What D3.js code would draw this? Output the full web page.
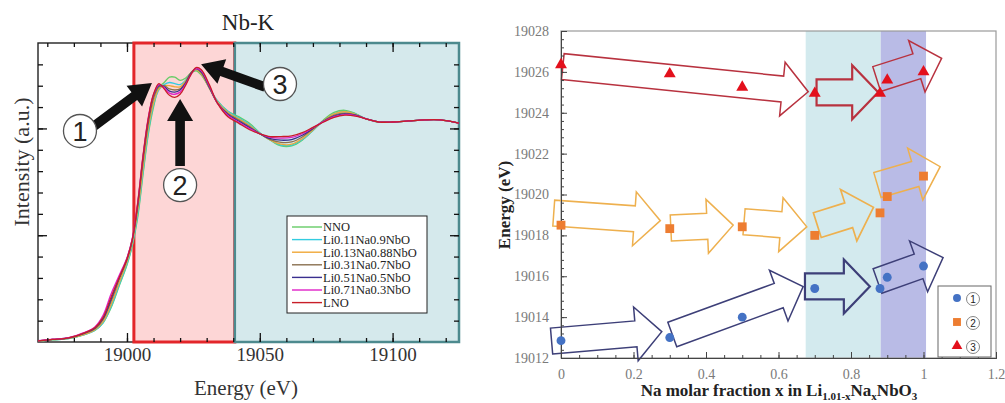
<!DOCTYPE html>
<html>
<head>
<meta charset="utf-8">
<script src="https://cdn.jsdelivr.net/npm/d3@7"></script>
<style>
  body { margin: 0; background: #fff; }
  svg { display: block; font-family: "Liberation Serif", "Times New Roman", serif; }
</style>
</head>
<body>
<svg id="svg1" width="1005" height="403"></svg>
<script>
'use strict'

// ---------- data: left panel (Nb-K edge spectra) ----------
const energy = [18966, 18972, 18978, 18984, 18988, 18991, 18994, 18997, 19000, 19002,
  19004, 19006, 19008, 19010, 19012, 19014, 19016, 19018, 19020, 19022,
  19024, 19026, 19028, 19031, 19034, 19038, 19042, 19046, 19050, 19054,
  19058, 19062, 19066, 19070, 19074, 19078, 19082, 19086, 19090, 19095,
  19100, 19106, 19112, 19118, 19125];

const nno = [0.003, 0.010, 0.016, 0.035, 0.055, 0.090, 0.160, 0.260, 0.360, 0.450,
  0.580, 0.780, 0.970, 1.100, 1.190, 1.215, 1.240, 1.240, 1.225, 1.235,
  1.258, 1.270, 1.250, 1.190, 1.130, 1.080, 1.055, 1.025, 0.980, 0.945,
  0.918, 0.918, 0.945, 0.990, 1.040, 1.075, 1.085, 1.070, 1.045, 1.030,
  1.030, 1.035, 1.040, 1.040, 1.025];
const li011 = [0.003, 0.010, 0.016, 0.034, 0.055, 0.090, 0.165, 0.265, 0.365, 0.455,
  0.590, 0.790, 0.980, 1.110, 1.180, 1.205, 1.215, 1.210, 1.205, 1.225,
  1.260, 1.275, 1.255, 1.190, 1.130, 1.080, 1.050, 1.020, 0.978, 0.945,
  0.922, 0.922, 0.948, 0.990, 1.035, 1.070, 1.080, 1.068, 1.045, 1.030,
  1.030, 1.035, 1.040, 1.040, 1.025];
const li013 = [0.004, 0.011, 0.017, 0.036, 0.058, 0.095, 0.175, 0.275, 0.375, 0.465,
  0.610, 0.810, 1.000, 1.120, 1.185, 1.200, 1.200, 1.195, 1.195, 1.220,
  1.260, 1.275, 1.255, 1.190, 1.125, 1.075, 1.045, 1.015, 0.976, 0.945,
  0.926, 0.926, 0.952, 0.993, 1.035, 1.068, 1.078, 1.066, 1.045, 1.030,
  1.030, 1.035, 1.040, 1.040, 1.025];
const li031 = [0.005, 0.012, 0.018, 0.040, 0.062, 0.105, 0.190, 0.290, 0.385, 0.475,
  0.630, 0.840, 1.020, 1.140, 1.195, 1.200, 1.185, 1.180, 1.185, 1.215,
  1.260, 1.280, 1.260, 1.190, 1.120, 1.070, 1.040, 1.010, 0.975, 0.948,
  0.935, 0.937, 0.960, 0.998, 1.035, 1.062, 1.072, 1.063, 1.045, 1.030,
  1.030, 1.035, 1.040, 1.040, 1.025];
const li051 = [0.005, 0.012, 0.019, 0.042, 0.066, 0.110, 0.200, 0.300, 0.390, 0.480,
  0.640, 0.860, 1.040, 1.155, 1.200, 1.195, 1.175, 1.170, 1.180, 1.210,
  1.255, 1.280, 1.265, 1.195, 1.120, 1.065, 1.035, 1.005, 0.975, 0.952,
  0.945, 0.948, 0.968, 1.000, 1.033, 1.058, 1.068, 1.062, 1.045, 1.030,
  1.030, 1.035, 1.040, 1.040, 1.025];
const li071 = [0.006, 0.013, 0.020, 0.045, 0.072, 0.125, 0.225, 0.310, 0.395, 0.485,
  0.650, 0.870, 1.050, 1.160, 1.205, 1.190, 1.165, 1.160, 1.170, 1.205,
  1.250, 1.280, 1.270, 1.200, 1.120, 1.060, 1.030, 1.000, 0.975, 0.958,
  0.955, 0.958, 0.975, 1.003, 1.032, 1.055, 1.065, 1.060, 1.045, 1.030,
  1.030, 1.035, 1.040, 1.040, 1.025];
const lno = [0.005, 0.012, 0.019, 0.043, 0.068, 0.115, 0.210, 0.300, 0.390, 0.480,
  0.645, 0.865, 1.045, 1.160, 1.210, 1.185, 1.155, 1.145, 1.160, 1.200,
  1.250, 1.285, 1.275, 1.205, 1.120, 1.055, 1.025, 0.995, 0.975, 0.962,
  0.962, 0.965, 0.980, 1.005, 1.030, 1.052, 1.062, 1.058, 1.045, 1.030,
  1.030, 1.035, 1.040, 1.040, 1.025];

const spectraNames = ["NNO", "Li0.11Na0.9NbO", "Li0.13Na0.88NbO", "Li0.31Na0.7NbO",
  "Li0.51Na0.5NbO", "Li0.71Na0.3NbO", "LNO"];
const spectraValues = [nno, li011, li013, li031, li051, li071, lno];
const spectraColors = ["#66cc66", "#33cce0", "#f0a838", "#8a7050", "#3a2f8f", "#e021c8", "#c81e28"];

const edgeRegion = [19002.6, 19040.6];
const exafsRegion = [19040.6, 19125];
const energyMajorTicks = [19000, 19050, 19100];
const intensityMajorTicks = [0.5, 1.0];

// annotation arrows on the spectra: [label, tail energy, tail intensity, tip energy, tip intensity, label energy, label intensity]
const peakArrows = [
  ["1", 18987.2, 1.007, 19009.4, 1.213, 18982.3, 0.988],
  ["2", 19020.0, 0.824, 19020.0, 1.138, 19020.0, 0.735],
  ["3", 19052.0, 1.194, 19027.9, 1.301, 19057.6, 1.208]
];

// ---------- data: right panel (peak energies vs Na fraction) ----------
const naFraction = [0, 0.3, 0.5, 0.7, 0.88, 0.9, 1.0];
const peak1 = [19012.85, 19013.0, 19014.0, 19015.4, 19015.4, 19015.95, 19016.5];
const peak2 = [19018.5, 19018.33, 19018.42, 19018.0, 19019.1, 19019.9, 19020.9];
const peak3 = [19026.35, 19025.9, 19025.25, 19024.95, 19024.95, 19025.6, 19026.0];
const phaseBands = [[0.675, 0.882], [0.882, 1.007]];
const xTicksR = [0, 0.2, 0.4, 0.6, 0.8, 1, 1.2];
const yTicksR = [19012, 19014, 19016, 19018, 19020, 19022, 19024, 19026, 19028];

// trend arrows: [tail x, tail E, tip x, tip E]
const trend3 = [[0.005, 19026.26, 0.682, 19025.03], [0.705, 19025.0, 0.875, 19025.0], [0.871, 19025.65, 1.05, 19026.66]];
const trend2 = [[-0.02, 19019.09, 0.274, 19018.72], [0.303, 19018.36, 0.475, 19018.5], [0.505, 19018.67, 0.678, 19018.42],
  [0.707, 19018.5, 0.862, 19019.37], [0.873, 19020.46, 1.046, 19021.36]];
const trend1 = [[-0.026, 19012.83, 0.278, 19013.29], [0.307, 19013.15, 0.668, 19015.49], [0.673, 19015.5, 0.852, 19015.5],
  [0.873, 19015.77, 1.054, 19016.91]];


const svg = d3.select("#svg1");
const SERIF = "Liberation Serif, Times New Roman, serif";

// block arrow outline from tail to tip (pixel space)
function blockArrow(x0, y0, x1, y1, w, h, len) {
  let dx = x1 - x0, dy = y1 - y0, d = Math.hypot(dx, dy);
  let ux = dx / d, uy = dy / d, nx = -uy, ny = ux;
  let bx = x1 - ux * len, by = y1 - uy * len;
  let p = d3.path();
  p.moveTo(x0 + nx * w, y0 + ny * w);
  p.lineTo(bx + nx * w, by + ny * w);
  p.lineTo(bx + nx * h, by + ny * h);
  p.lineTo(x1, y1);
  p.lineTo(bx - nx * h, by - ny * h);
  p.lineTo(bx - nx * w, by - ny * w);
  p.lineTo(x0 - nx * w, y0 - ny * w);
  p.closePath();
  return p.toString();
}

function circledNumber(g, cx, cy, r, digit, size, stroke) {
  g.append("circle").attr("cx", cx).attr("cy", cy).attr("r", r)
    .attr("fill", "#fff").attr("stroke", stroke).attr("stroke-width", r > 10 ? 1.3 : 0.9);
  g.append("text").attr("x", cx).attr("y", cy).attr("dy", "0.36em")
    .attr("text-anchor", "middle").attr("font-family", "Liberation Sans, Arial, sans-serif")
    .attr("font-size", size).attr("fill", "#222").text(digit);
}


/* ================= left panel ================= */
const L = {left: 38, right: 459, top: 43, bottom: 342};
const xL = d3.scaleLinear().domain([18966.5, 19125]).range([L.left, L.right]);
const yL = d3.scaleLinear().domain([0, 1.4]).range([L.bottom, L.top]);
const gL = svg.append("g");

gL.append("rect").attr("x", L.left).attr("y", L.top)
  .attr("width", L.right - L.left).attr("height", L.bottom - L.top)
  .attr("fill", "#fff").attr("stroke", "#222").attr("stroke-width", 1.4);

gL.append("rect")
  .attr("x", xL(edgeRegion[0])).attr("y", L.top)
  .attr("width", xL(edgeRegion[1]) - xL(edgeRegion[0])).attr("height", L.bottom - L.top)
  .attr("fill", "#fdd6d6").attr("stroke", "#e3262a").attr("stroke-width", 3);
gL.append("rect")
  .attr("x", xL(exafsRegion[0])).attr("y", L.top)
  .attr("width", xL(exafsRegion[1]) - xL(exafsRegion[0])).attr("height", L.bottom - L.top)
  .attr("fill", "#d5e9ec").attr("stroke", "#4d8a8e").attr("stroke-width", 2.5);

gL.append("clipPath").attr("id", "clipL").append("rect")
  .attr("x", L.left).attr("y", L.top).attr("width", L.right - L.left).attr("height", L.bottom - L.top);

let spectrumLine = d3.line()
  .x((d, i) => xL(energy[i]))
  .y(d => yL(d))
  .curve(d3.curveCatmullRom.alpha(0.5));

gL.append("g").attr("clip-path", "url(#clipL)")
  .selectAll("path")
  .data(spectraValues)
  .enter().append("path")
    .attr("d", d => spectrumLine(d))
    .attr("fill", "none")
    .attr("stroke", (d, i) => spectraColors[i])
    .attr("stroke-width", 1.3);

// axes with inward ticks on all four sides
function styleTicks(sel) {
  sel.select(".domain").remove();
  sel.selectAll(".tick line").attr("stroke", "#111").attr("stroke-width", 1.3);
}
let minorE = d3.range(18970, 19125, 10);
let minorI = d3.range(0.1, 1.4, 0.1);
gL.append("g").attr("transform", `translate(0,${L.bottom})`)
  .call(d3.axisBottom(xL).tickValues(minorE).tickSize(-4).tickFormat("")).call(styleTicks);
gL.append("g").attr("transform", `translate(0,${L.top})`)
  .call(d3.axisTop(xL).tickValues(minorE).tickSize(-4).tickFormat("")).call(styleTicks);
gL.append("g").attr("transform", `translate(0,${L.top})`)
  .call(d3.axisTop(xL).tickValues(energyMajorTicks).tickSize(-9).tickFormat("")).call(styleTicks);
let xAxisL = gL.append("g").attr("transform", `translate(0,${L.bottom})`)
  .call(d3.axisBottom(xL).tickValues(energyMajorTicks).tickSize(-9).tickPadding(6).tickFormat(d3.format("d")))
  .call(styleTicks);
xAxisL.selectAll(".tick text").attr("font-family", SERIF)
  .attr("font-size", 19).attr("fill", "#333");
gL.append("g").attr("transform", `translate(${L.left},0)`)
  .call(d3.axisLeft(yL).tickValues(minorI).tickSize(-5).tickFormat("")).call(styleTicks);
gL.append("g").attr("transform", `translate(${L.right},0)`)
  .call(d3.axisRight(yL).tickValues(minorI).tickSize(-5).tickFormat("")).call(styleTicks);
gL.append("g").attr("transform", `translate(${L.left},0)`)
  .call(d3.axisLeft(yL).tickValues(intensityMajorTicks).tickSize(-9).tickFormat("")).call(styleTicks);
gL.append("g").attr("transform", `translate(${L.right},0)`)
  .call(d3.axisRight(yL).tickValues(intensityMajorTicks).tickSize(-9).tickFormat("")).call(styleTicks);

// legend
let legL = gL.append("g").attr("transform", "translate(287,216)");
legL.append("rect").attr("width", 140).attr("height", 97)
  .attr("fill", "#fff").attr("stroke", "#222").attr("stroke-width", 1);
spectraNames.forEach((name, i) => {
  let yy = 11 + i * 12.6;
  legL.append("line").attr("x1", 5).attr("x2", 35).attr("y1", yy).attr("y2", yy)
    .attr("stroke", spectraColors[i]).attr("stroke-width", 1.4);
  legL.append("text").attr("x", 36).attr("y", yy).attr("dy", "0.35em")
    .attr("font-family", SERIF).attr("font-size", 12.5).attr("fill", "#222").text(name);
});

// black annotation arrows with circled numbers
peakArrows.forEach(a => {
  gL.append("path")
    .attr("d", blockArrow(xL(a[1]), yL(a[2]), xL(a[3]), yL(a[4]), 4.8, 13, 22))
    .attr("fill", "#111");
  circledNumber(gL, xL(a[5]), yL(a[6]), 16.5, a[0], 27, "#555");
});

gL.append("text").attr("x", 248).attr("y", 30).attr("text-anchor", "middle")
  .attr("font-family", SERIF).attr("font-size", 23).attr("fill", "#222").text("Nb-K");
gL.append("text").attr("x", 246).attr("y", 395).attr("text-anchor", "middle")
  .attr("font-family", SERIF).attr("font-size", 21).attr("fill", "#333").text("Energy (eV)");
gL.append("text").attr("transform", "translate(29,162) rotate(-90)").attr("text-anchor", "middle")
  .attr("font-family", SERIF).attr("font-size", 22).attr("fill", "#333").text("Intensity (a.u.)");


/* ================= right panel ================= */
const R = {left: 561, right: 996, top: 31, bottom: 358};
const xR = d3.scaleLinear().domain([0, 1.2]).range([R.left, R.right]);
const yR = d3.scaleLinear().domain([19012, 19028]).range([R.bottom, R.top]);
const gR = svg.append("g");

gR.selectAll(".band")
  .data(phaseBands)
  .enter().append("rect")
    .attr("class", "band")
    .attr("x", d => xR(d[0]))
    .attr("y", R.top)
    .attr("width", d => xR(d[1]) - xR(d[0]))
    .attr("height", R.bottom - R.top)
    .attr("fill", (d, i) => i === 0 ? "#d3eaee" : "#b9bbe6");

gR.append("rect").attr("x", R.left).attr("y", R.top)
  .attr("width", R.right - R.left).attr("height", R.bottom - R.top)
  .attr("fill", "none").attr("stroke", "#9a9a9a").attr("stroke-width", 1.2);

function drawTrend(list, color, widths) {
  gR.selectAll(null)
    .data(list)
    .enter().append("path")
      .attr("d", d => blockArrow(xR(d[0]), yR(d[1]), xR(d[2]), yR(d[3]), 13, 27, 26))
      .attr("fill", "none")
      .attr("stroke", color)
      .attr("stroke-width", (d, i) => widths[i])
      .attr("stroke-linejoin", "miter");
}
drawTrend(trend3, "#b8323f", [1.5, 2.2, 1.5]);
drawTrend(trend2, "#eeb04e", [1.5, 1.5, 1.5, 1.7, 1.5]);
drawTrend(trend1, "#3d3f78", [1.5, 1.5, 2.2, 1.5]);

// axes
function styleTicksR(sel) {
  sel.select(".domain").attr("stroke", "#444");
  sel.selectAll(".tick line").attr("stroke", "#444");
}
gR.append("g").attr("transform", `translate(${R.left},0)`)
  .call(d3.axisLeft(yR).tickValues(d3.range(19012, 19028.01, 0.4)).tickSize(-3).tickFormat(""))
  .call(styleTicksR);
let yAxisR = gR.append("g").attr("transform", `translate(${R.left},0)`)
  .call(d3.axisLeft(yR).tickValues(yTicksR).tickSize(-6).tickPadding(12).tickFormat(d3.format("d")))
  .call(styleTicksR);
yAxisR.selectAll(".tick text").attr("font-family", SERIF)
  .attr("font-size", 14).attr("fill", "#7a7a7a");
gR.append("g").attr("transform", `translate(0,${R.bottom})`)
  .call(d3.axisBottom(xR).tickValues(d3.range(0, 1.2001, 0.05)).tickSize(-3).tickFormat(""))
  .call(styleTicksR);
let xAxisR = gR.append("g").attr("transform", `translate(0,${R.bottom})`)
  .call(d3.axisBottom(xR).tickValues(xTicksR).tickSize(-6).tickPadding(11).tickFormat(d3.format("")))
  .call(styleTicksR);
xAxisR.selectAll(".tick text").attr("font-family", SERIF)
  .attr("font-size", 14).attr("fill", "#7a7a7a");

// markers
let markerSets = [
  {values: peak1, type: d3.symbolCircle, size: 62, color: "#4472c4"},
  {values: peak2, type: d3.symbolSquare, size: 78, color: "#ed7d31"},
  {values: peak3, type: d3.symbolTriangle, size: 62, color: "#e3101c"}
];
markerSets.forEach(s => {
  gR.selectAll(null)
    .data(s.values)
    .enter().append("path")
      .attr("transform", (d, i) => `translate(${xR(naFraction[i])},${yR(d)})`)
      .attr("d", d3.symbol().type(s.type).size(s.size))
      .attr("fill", s.color);
});

// legend
let legR = gR.append("g").attr("transform", "translate(938,286)");
legR.append("rect").attr("width", 53).attr("height", 71)
  .attr("fill", "#fff").attr("stroke", "#666").attr("stroke-width", 1);
markerSets.forEach((s, i) => {
  let yy = 12 + i * 24;
  legR.append("path").attr("transform", `translate(19,${yy})`)
    .attr("d", d3.symbol().type(s.type).size(s.size * 0.8)).attr("fill", s.color);
  circledNumber(legR, 35, yy + 1, 6.5, String(i + 1), 10, "#777");
});

// axis titles
let xTitle = gR.append("text").attr("x", 779).attr("y", 396).attr("text-anchor", "middle")
  .attr("font-family", SERIF).attr("font-size", 17).attr("font-weight", "bold").attr("fill", "#222");
xTitle.append("tspan").text("Na molar fraction x in Li");
xTitle.append("tspan").attr("dy", 4).attr("font-size", 11).text("1.01-x");
xTitle.append("tspan").attr("dy", -4).text("Na");
xTitle.append("tspan").attr("dy", 4).attr("font-size", 11).text("x");
xTitle.append("tspan").attr("dy", -4).text("NbO");
xTitle.append("tspan").attr("dy", 4).attr("font-size", 11).text("3");

gR.append("text").attr("transform", "translate(510,205) rotate(-90)").attr("text-anchor", "middle")
  .attr("font-family", SERIF).attr("font-size", 17).attr("font-weight", "bold").attr("fill", "#222").text("Energy (eV)");
</script>
</body>
</html>
